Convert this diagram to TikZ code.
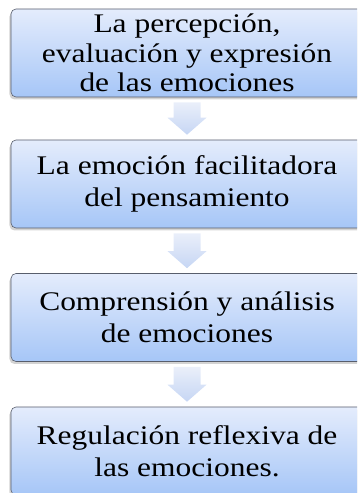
\documentclass[tikz,border=0pt]{standalone}
\usepackage{fontspec}
\setmainfont{Liberation Serif}[FakeStretch=1.17]
\usepackage{tikz}
\usetikzlibrary{calc,shadows}

\definecolor{boxTop}{RGB}{228,236,252}
\definecolor{boxBottom}{RGB}{166,198,247}
\definecolor{boxLine}{RGB}{88,94,108}
\definecolor{arrowTop}{RGB}{234,239,250}
\definecolor{arrowBottom}{RGB}{198,214,244}

\tikzset{
  etapa/.style={draw=boxLine,line width=0.6bp,rounded corners=5bp,
    top color=boxTop,bottom color=boxBottom,
    drop shadow={shadow xshift=-1.5bp,shadow yshift=-2.5bp,opacity=0.35},
    minimum width=352bp,minimum height=88bp,inner sep=0pt,
    align=center,font=\fontsize{27}{32.5}\selectfont},
  flecha/.style={top color=arrowTop,bottom color=arrowBottom,
    to path={let \p1=(\tikztostart.south), \p2=(\tikztotarget.north) in
      (\x1-13.5bp,\y1-5bp) -- (\x1+13.5bp,\y1-5bp) -- (\x1+13.5bp,\y2+22bp)
      -- (\x1+19.5bp,\y2+22bp) -- (\x1,\y2+5bp) -- (\x1-19.5bp,\y2+22bp)
      -- (\x1-13.5bp,\y2+22bp) -- cycle}}
}

\begin{document}
\begin{tikzpicture}[x=1bp,y=1bp]
\path[use as bounding box] (0,0) rectangle (357,493);
\begin{scope}
\clip (0,0) rectangle (357,493);

% the four stages, top to bottom
\node[etapa,font=\fontsize{27}{29.5}\selectfont] (percepcion) at (187,440) {La percepción,\\evaluación y expresión\\de las emociones};
\node[etapa] (facilitadora) at (187,309) {La emoción facilitadora\\del pensamiento};
\node[etapa] (comprension) at (187,175.5) {Comprensión y análisis\\de emociones};
\node[etapa] (regulacion) at (187,42) {Regulación reflexiva de\\las emociones.};

\path[flecha] (percepcion) to (facilitadora);
\path[flecha] (facilitadora) to (comprension);
\path[flecha] (comprension) to (regulacion);
\end{scope}
\end{tikzpicture}
\end{document}
